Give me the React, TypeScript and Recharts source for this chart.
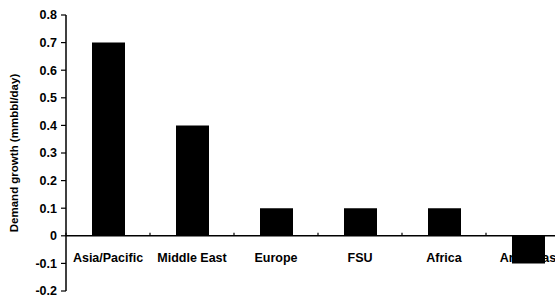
import { Bar, BarChart, XAxis, YAxis, ReferenceLine } from "recharts"

const regions = ["Asia/Pacific", "Middle East", "Europe", "FSU", "Africa", "Americas"]
const growth = [0.7, 0.4, 0.1, 0.1, 0.1, -0.1]
const yTicks = [-0.2, -0.1, 0, 0.1, 0.2, 0.3, 0.4, 0.5, 0.6, 0.7, 0.8]

const data = regions.map((name, i) => ({ name, growth: growth[i] }))

const W = 575
const H = 297
const margin = { top: 15, right: 5, left: 0, bottom: 5 }
const yAxisW = 66
const xAxisH = 1
const plotW = W - margin.left - margin.right - yAxisW
const plotH = H - margin.top - margin.bottom - xAxisH
const zeroY = margin.top + plotH * (0.8 / 1.0)
const band = plotW / regions.length

const font = "'Liberation Sans', Arial, sans-serif"

function RegionTick(props: any) {
  const { x, payload } = props
  return (
    <g>
      <line x1={x - band / 2} x2={x - band / 2} y1={zeroY - 3} y2={zeroY} stroke="#000" strokeWidth={1.2} />
      <text x={x} y={zeroY + 26} textAnchor="middle" fontFamily={font} fontWeight="bold" fontSize={12.5} fill="#000">
        {payload.value}
      </text>
    </g>
  )
}

export default function App() {
  return (
    <div style={{ position: "absolute", left: 0, top: 0, width: 555, height: 297, overflow: "hidden", background: "#fff" }}>
      <BarChart width={W} height={H} data={data} margin={margin}>
        <XAxis dataKey="name" axisLine={false} tickLine={false} height={xAxisH} tick={<RegionTick />} interval={0} />
        <YAxis
          width={yAxisW}
          domain={[-0.2, 0.8]}
          ticks={yTicks}
          interval={0}
          tickSize={5}
          tickMargin={4}
          tickFormatter={(v: number) => (v === 0 ? "0" : v.toFixed(1))}
          axisLine={{ stroke: "#000", strokeWidth: 1.5 }}
          tickLine={{ stroke: "#000", strokeWidth: 1.2 }}
          tick={{ fill: "#000", fontFamily: font, fontWeight: "bold", fontSize: 12.5 }}
          label={{
            value: "Demand growth (mmbbl/day)",
            angle: -90,
            position: "insideLeft",
            offset: 14,
            style: { fill: "#000", fontFamily: font, fontWeight: "bold", fontSize: 11.5, textAnchor: "middle" },
          }}
        />
        <ReferenceLine y={0} stroke="#000" strokeWidth={1.5} />
        <Bar dataKey="growth" fill="#000" barSize={33} isAnimationActive={false} />
      </BarChart>
    </div>
  )
}
